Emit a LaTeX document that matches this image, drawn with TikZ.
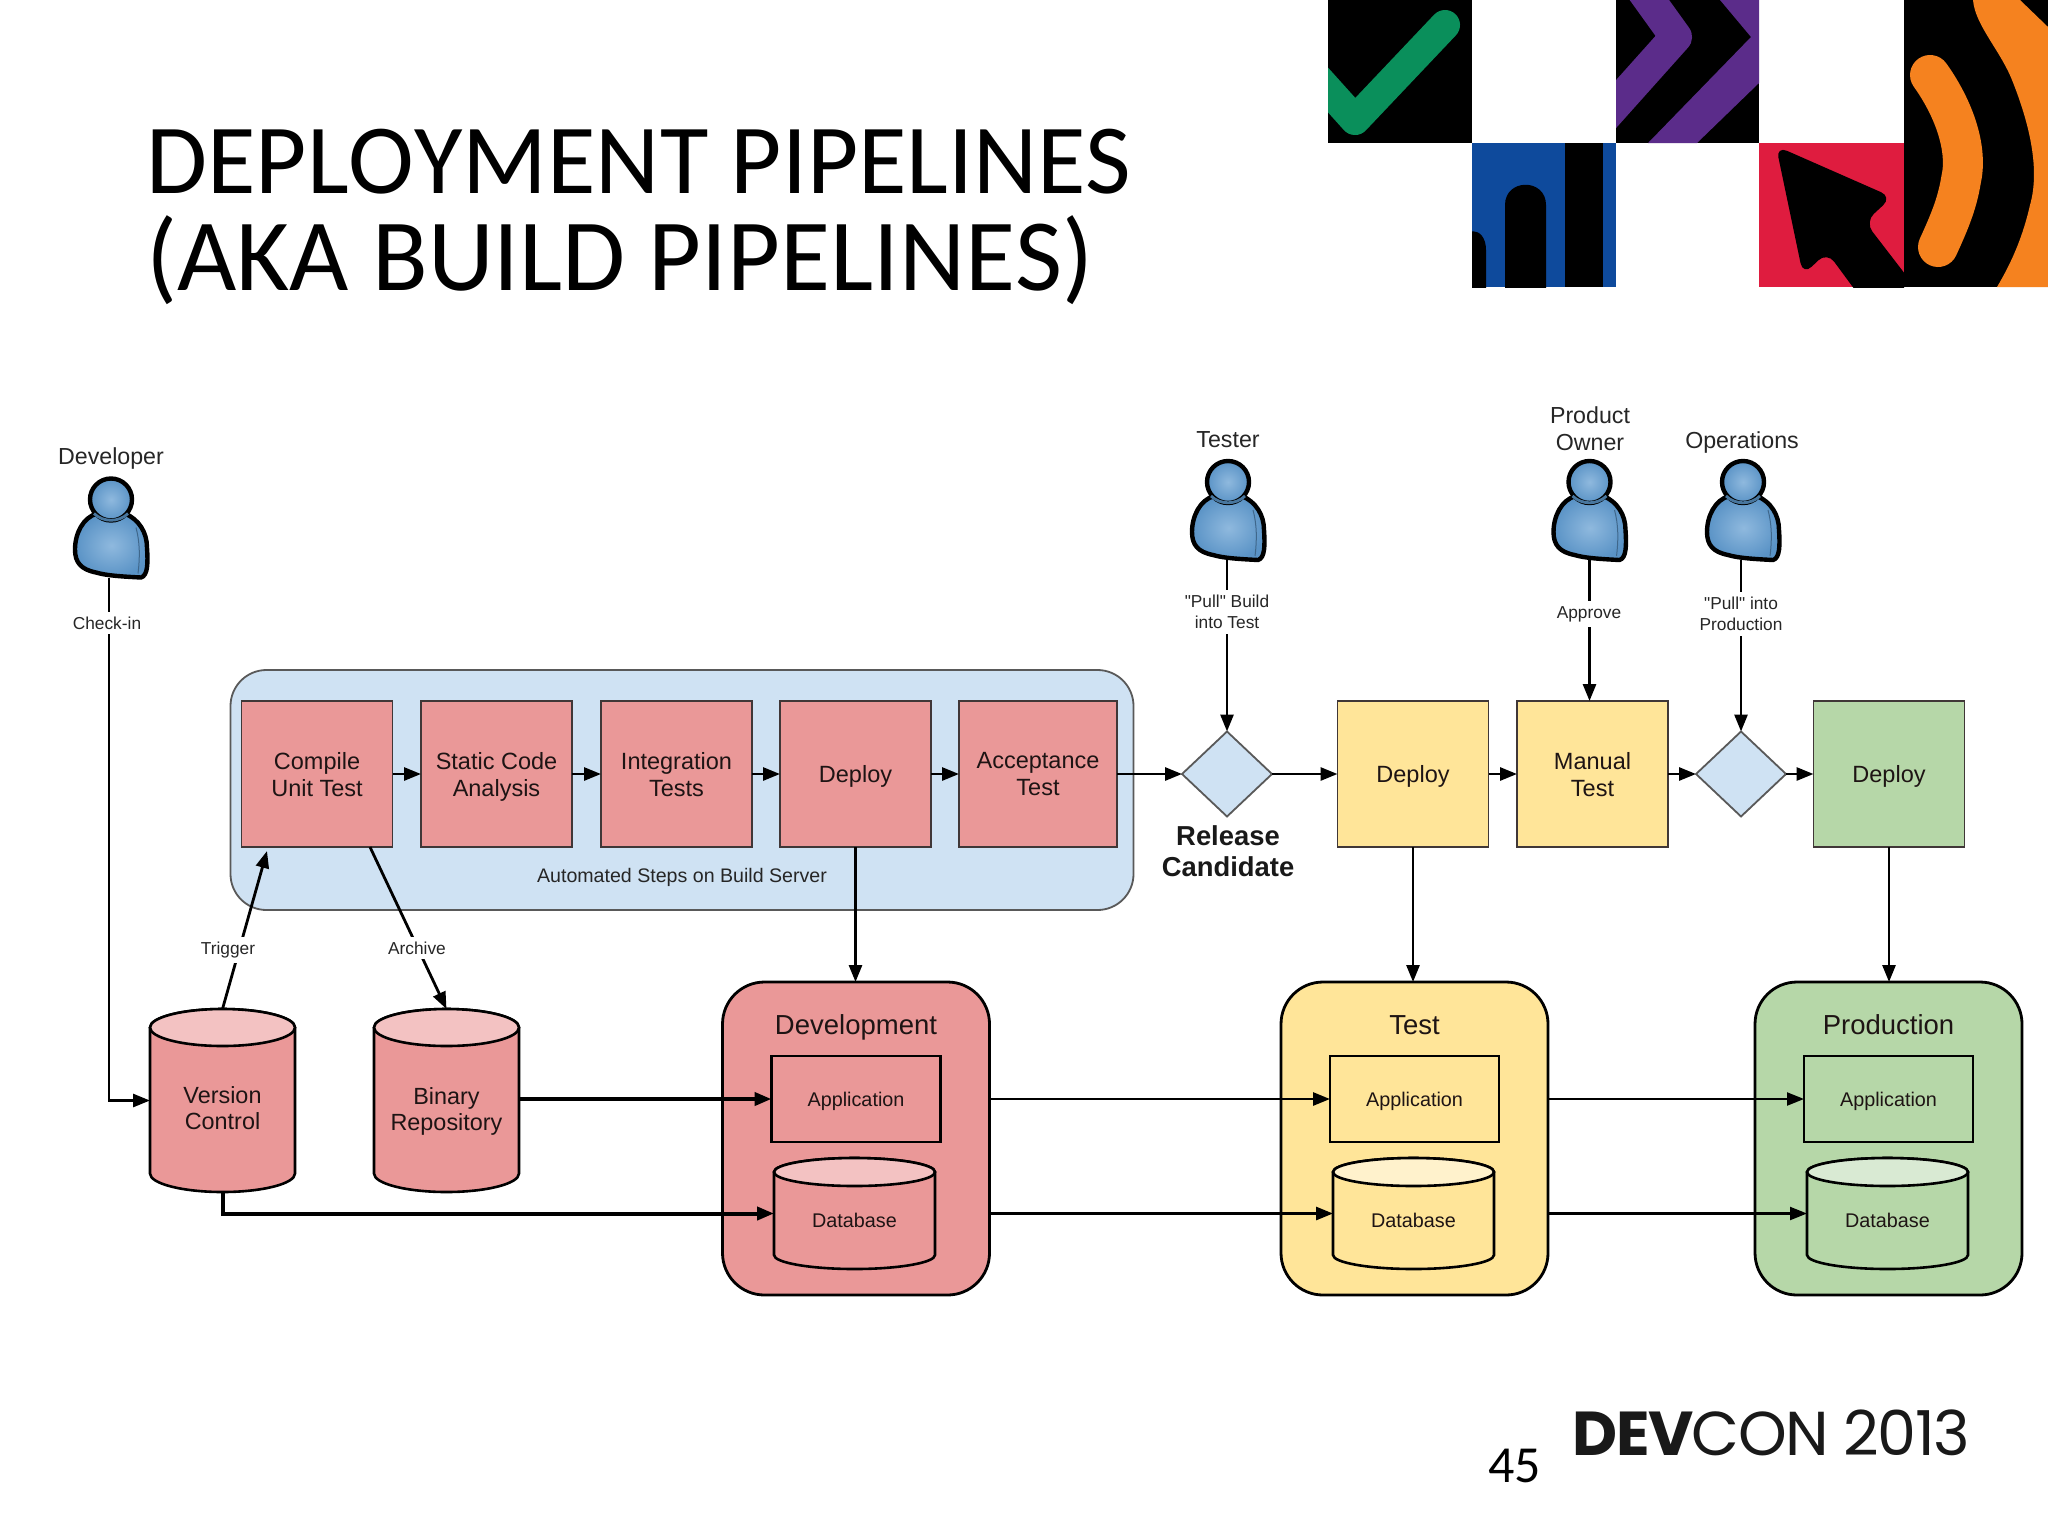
\documentclass[tikz,border=0pt]{standalone}
\usepackage{fontspec}
\setmainfont{Liberation Sans}
\newfontfamily\diagfont{Liberation Sans}
\newfontfamily\slidefont{Carlito}[Kerning=Off]
\newfontfamily\pagefont{Carlito}
\newfontfamily\devfont{Poppins}[LetterSpace=-2.5]
\usetikzlibrary{arrows.meta,shapes.geometric,calc}
\definecolor{pinkb}{HTML}{EA9898}
\definecolor{pinkc}{HTML}{F3C2C2}
\definecolor{yelb}{HTML}{FFE599}
\definecolor{yelc}{HTML}{FFF2CC}
\definecolor{grnb}{HTML}{B6D7A8}
\definecolor{grnc}{HTML}{D9EAD3}
\definecolor{bluec}{HTML}{CFE2F3}
\definecolor{ink}{HTML}{1E1414}
\definecolor{skyin}{HTML}{8FB9DE}
\definecolor{skyout}{HTML}{5A93C6}
\tikzset{
  flow/.style={line width=1.4pt,draw=black,-{Triangle[length=8.5pt,width=6.5pt]}},
  heavyflow/.style={flow,line width=2pt},
  lightflow/.style={flow,line width=1.1pt},
  stepbox/.style={draw=ink!85,line width=0.9pt,minimum width=75.5pt,minimum height=73pt,inner sep=0pt,outer sep=0pt,align=center,text=ink,text depth=0pt,font=\fontsize{11.75}{13.5}\selectfont},
  envbox/.style={draw=black,line width=1.4pt,rounded corners=21pt,minimum width=133.5pt,minimum height=156.5pt,inner sep=0pt,outer sep=0pt},
  appbox/.style={draw=black,line width=1.4pt,minimum width=84.5pt,minimum height=43pt,inner sep=0pt,outer sep=0pt,align=center,text=ink,text depth=0pt,font=\fontsize{9.9}{12}\selectfont},
  gate/.style={diamond,draw=black!65,line width=0.9pt,fill=bluec,minimum width=45pt,minimum height=42.5pt,inner sep=0pt,outer sep=0pt},
  slot/.style={inner sep=0pt,outer sep=0pt},
  actor/.style={inner sep=0pt,outer sep=0pt,minimum width=36pt,minimum height=50pt},
  whoname/.style={align=center,inner sep=0pt,text=black!85,font=\fontsize{11.6}{13.5}\selectfont},
  linklabel/.style={fill=white,align=center,inner xsep=3pt,inner ysep=2.5pt,text=black!85,font=\diagfont\fontsize{8.65}{10.2}\selectfont},
  cyltext/.style={inner sep=0pt,align=center,text=ink,font=\fontsize{11.7}{13}\selectfont},
  dbtext/.style={inner sep=0pt,align=center,text=ink,font=\fontsize{9.9}{12}\selectfont},
  person/.pic={
    \path[draw=black,line width=2.2pt,inner color=skyin,outer color=skyout,line join=round]
      (-14,36) .. controls (-28,40) and (-36,56) .. (-36,72)
      .. controls (-36,85) and (-30,92) .. (-15,95)
      .. controls (-5,98) and (10,99) .. (30,100)
      .. controls (37,98) and (37,85) .. (36,70)
      .. controls (36,55) and (28,42) .. (14,36) -- cycle;
    \draw[line width=0.5pt,draw=skyout!70!black] (25,50) .. controls (29,65) and (29,80) .. (27,96);
    \path[draw=black,line width=2.2pt,inner color=skyin,outer color=skyout]
      (0,22) ellipse [x radius=21,y radius=21];
    \draw[line width=1.4pt,draw=skyout!80!black] (-17,36) .. controls (-8,45) and (8,45) .. (17,36);
  }
}
\newcommand{\drum}[8]{% name cx ytop ybot halfw ry body cap
  \draw[draw=black,line width=1.3pt,fill=#7]
    (#2-#5,#3+#6) -- (#2-#5,#4-#6)
    .. controls (#2-#5,#4-0.45*#6) and (#2-0.55*#5,#4) .. (#2,#4)
    .. controls (#2+0.55*#5,#4) and (#2+#5,#4-0.45*#6) .. (#2+#5,#4-#6)
    -- (#2+#5,#3+#6)
    .. controls (#2+#5,#3+0.45*#6) and (#2+0.55*#5,#3) .. (#2,#3)
    .. controls (#2-0.55*#5,#3) and (#2-#5,#3+0.45*#6) .. (#2-#5,#3+#6) -- cycle;
  \draw[draw=black,line width=1.3pt,fill=#8] (#2,#3+#6) ellipse [x radius=#5,y radius=#6];
  \node[slot,minimum width=#5*1pt,minimum height=0.5*(#4-#3)*1pt] (#1) at (#2,{0.5*(#3+#4)}) {};
}
\begin{document}
\begin{tikzpicture}[x=0.5pt,y=-0.5pt]
\useasboundingbox (0,0) rectangle (2048,1536);
\fill[white] (0,0) rectangle (2048,1536);

% ---------- logo mosaic
\definecolor{leaf}{HTML}{0A8F5B}
\definecolor{plum}{HTML}{5B2C8A}
\definecolor{cobalt}{HTML}{0E4A9C}
\definecolor{crimson}{HTML}{DF1C3F}
\definecolor{amber}{HTML}{F5821F}
\fill[black] (1328,0) rectangle (1472,143);
\begin{scope}
  \clip (1328,0) rectangle (1472,143);
  \draw[line width=15pt,line cap=round,line join=round,draw=leaf] (1445,25) -- (1355,120) -- (1310,70);
\end{scope}
\fill[black] (1616,0) rectangle (1759,143);
\begin{scope}
  \clip (1616,0) rectangle (1759,143);
  \draw[line width=16pt,line join=round,draw=plum] (1635,-20) -- (1676,37) -- (1600,122);
  \fill[plum] (1720,0) -- (1751,37) -- (1648,143) -- (1697,143) -- (1759,83) -- (1759,0) -- cycle;
\end{scope}
\fill[cobalt] (1472,143) rectangle (1616,287);
\begin{scope}
  \clip (1472,143) rectangle (1616,287);
  \fill[black] (1565,143) rectangle (1603,287);
  \fill[black] (1505,300) -- (1505,205) .. controls (1505,178) and (1546,178) .. (1546,205) -- (1546,300) -- cycle;
  \fill[black] (1460,300) -- (1460,250) .. controls (1460,225) and (1486,225) .. (1486,250) -- (1486,300) -- cycle;
\end{scope}
\fill[crimson] (1759,143) rectangle (1904,287);
\fill[black] (1904,0) rectangle (2048,287);
\begin{scope}
  \clip (1759,143) rectangle (1904,287);
  \fill[black,rounded corners=6pt] (1776,146) -- (1892,197) -- (1865,222) -- (1925,300) -- (1866,305) -- (1827,252) -- (1803,275) -- cycle;
\end{scope}
\begin{scope}
  \clip (1904,0) rectangle (2048,287);
  \draw[line width=20pt,line cap=round,draw=amber] (1930,75) .. controls (1955,110) and (1968,150) .. (1961,180) .. controls (1957,205) and (1948,225) .. (1938,247);
  \fill[amber] (1973,0) .. controls (1975,25) and (2000,50) .. (2012,80) .. controls (2030,125) and (2040,170) .. (2030,205) .. controls (2022,240) and (2010,265) .. (1997,287) -- (2048,287) -- (2048,27) -- (2020,0) -- cycle;
\end{scope}

% ---------- title and footer
\node[anchor=north west,inner sep=0pt,align=left,font=\slidefont\fontsize{49.6}{48.5}\selectfont] (title) at (146,129) {DEPLOYMENT PIPELINES\\{\fontsize{51.2}{48.5}\selectfont (AKA BUILD PIPELINES)}};
\node[anchor=base west,inner sep=0pt,font=\pagefont\fontsize{26}{30}\selectfont] (page) at (1488,1482) {45};
\node[anchor=base west,inner sep=0pt,text=black!90,font=\devfont\fontsize{31}{36}\selectfont] (devcon) at (1572,1455) {\textbf{DEV}CON 2013};

% ---------- build server group
\node[draw=black!65,line width=0.9pt,fill=bluec,rounded corners=18pt,minimum width=451.5pt,minimum height=120pt,inner sep=0pt,outer sep=0pt] (server) at (682,790) {};
\node[stepbox,fill=pinkb] (compile) at (317,774) {Compile\\Unit Test};
\node[stepbox,fill=pinkb] (static) at (496.5,774) {Static Code\\Analysis};
\node[stepbox,fill=pinkb] (integ) at (676.5,774) {Integration\\Tests};
\node[stepbox,fill=pinkb] (deploya) at (855.5,774) {Deploy};
\node[stepbox,fill=pinkb,minimum width=79pt] (accept) at (1038,774) {Acceptance\\Test};
\node[inner sep=0pt,text=black!85,font=\fontsize{9.8}{12}\selectfont] (servername) at (682,877) {Automated Steps on Build Server};

% ---------- later stages
\node[gate] (rc) at (1227,774) {};
\node[align=center,inner sep=0pt,font=\bfseries\fontsize{13.7}{15.5}\selectfont,text=black!90] (rcname) at (1228,851) {Release\\Candidate};
\node[stepbox,fill=yelb] (deployb) at (1413,774) {Deploy};
\node[stepbox,fill=yelb] (manual) at (1592.5,774) {Manual\\Test};
\node[gate] (prodgate) at (1741,774) {};
\node[stepbox,fill=grnb] (deployc) at (1889,774) {Deploy};

% ---------- environments
\node[envbox,fill=pinkb] (dev) at (856,1138.5) {};
\node[envbox,fill=yelb] (test) at (1414.5,1138.5) {};
\node[envbox,fill=grnb] (prod) at (1888.5,1138.5) {};
\node[inner sep=0pt,text=ink,font=\fontsize{13.75}{16}\selectfont] (devname) at (856,1027) {Development};
\node[inner sep=0pt,text=ink,font=\fontsize{13.75}{16}\selectfont] (testname) at (1414.5,1025) {Test};
\node[inner sep=0pt,text=ink,font=\fontsize{13.75}{16}\selectfont] (prodname) at (1888.5,1025) {Production};
\node[appbox] (appd) at (856,1099) {Application};
\node[appbox] (appt) at (1414.5,1099) {Application};
\node[appbox] (appp) at (1888.5,1099) {Application};
\drum{dbd}{854.5}{1158}{1269}{80.5}{14}{pinkb}{pinkc}
\drum{dbt}{1413.5}{1158}{1269}{80.5}{14}{yelb}{yelc}
\drum{dbp}{1887.5}{1158}{1269}{80.5}{14}{grnb}{grnc}
\node[dbtext] (dbdt) at (854.5,1220) {Database};
\node[dbtext] (dbtt) at (1413.5,1220) {Database};
\node[dbtext] (dbpt) at (1887.5,1220) {Database};

% ---------- repositories
\drum{vc}{222.5}{1009}{1192}{72.5}{18.5}{pinkb}{pinkc}
\drum{repo}{446.5}{1009}{1192}{72.5}{18.5}{pinkb}{pinkc}
\node[cyltext] (vct) at (222.5,1108.5) {Version\\Control};
\node[cyltext] (repot) at (446.5,1111.5) {Binary\\Repository};

% ---------- actors
\node[actor] (developer) at (109,527.5) {};
\node[actor] (tester) at (1227,510) {};
\node[actor] (owner) at (1589.5,510) {};
\node[actor] (ops) at (1741,510) {};
\pic at ($(developer.north)+(2,0)$) {person};
\pic at ($(tester.north)+(1,0)$) {person};
\pic at (owner.north) {person};
\pic at ($(ops.north)+(2,0)$) {person};
\node[whoname] (n1) at (111,458) {Developer};
\node[whoname] (n2) at (1228,440) {Tester};
\node[whoname] (n3) at (1590,428.5) {Product\\Owner};
\node[whoname] (n4) at (1742,442) {Operations};

% ---------- connectors
\coordinate (trigtip) at (267,851);
\coordinate (archfrom) at (370,847);
\draw[flow] (compile) -- (static);
\draw[flow] (static) -- (integ);
\draw[flow] (integ) -- (deploya);
\draw[flow] (deploya) -- (accept);
\draw[flow] (accept) -- (rc);
\draw[flow] (rc) -- (deployb);
\draw[flow] (deployb) -- (manual);
\draw[flow] (manual) -- (prodgate);
\draw[flow] (prodgate) -- (deployc);
\draw[flow] (deploya.south) -- (deploya.south |- dev.north);
\draw[flow] (deployb.south) -- (deployb.south |- test.north);
\draw[flow] (deployc.south) -- (deployc.south |- prod.north);
\draw[flow] (tester.south) -- (rc.north);
\draw[flow] (owner.south) -- (owner.south |- manual.north);
\draw[flow] (ops.south) -- (prodgate.north);
\draw[flow] (developer.south) |- (vc.west);
\draw[flow] (vc.north) -- (trigtip);
\draw[flow] (archfrom) -- (repo.north);
\draw[heavyflow] (repo.east |- appd.west) -- (appd.west);
\draw[heavyflow] (vc.south) |- (dbd.west);
\draw[flow] (dev.east |- appt.west) -- (appt.west);
\draw[flow] (dev.east |- dbt.west) -- (dbt.west);
\draw[lightflow] (test.east |- appp.west) -- (appp.west);
\draw[lightflow] (test.east |- dbp.west) -- (dbp.west);

% ---------- connector labels
\node[linklabel] (l1) at (107,623) {Check-in};
\node[linklabel] (l2) at (228,950) {Trigger};
\node[linklabel] (l3) at (417,948) {Archive};
\node[linklabel] (l4) at (1227,612) {"Pull" Build\\into Test};
\node[linklabel] (l5) at (1589,614) {Approve};
\node[linklabel] (l6) at (1741,614) {"Pull" into\\Production};
\end{tikzpicture}
\end{document}
